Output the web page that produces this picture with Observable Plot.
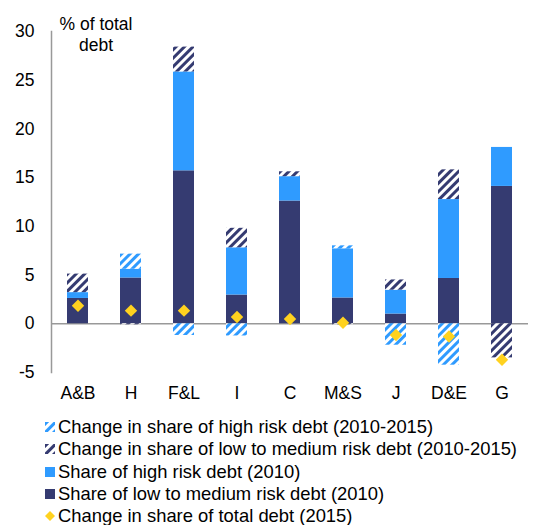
<!DOCTYPE html>
<html>
<head>
<meta charset="utf-8">
<script src="https://cdn.jsdelivr.net/npm/d3@7"></script>
<script src="https://cdn.jsdelivr.net/npm/@observablehq/plot@0.6"></script>
<style>
  body { margin: 0; background: #fff; font-family: "Liberation Sans", Arial, sans-serif; }
  #legend { margin-top: 6px; padding-left: 45px; font-size: 18.4px; line-height: 22.3px; color: #000; }
  #legend .item { display: flex; align-items: center; white-space: nowrap; }
  #legend svg { margin-right: 3px; flex: none; }
</style>
</head>
<body>
<div id="chart"></div>
<div id="legend"></div>
<script>
const categories = ["A&B", "H", "F&L", "I", "C", "M&S", "J", "D&E", "G"];
const lowMedShare2010 = [2.6, 4.7, 15.7, 2.95, 12.6, 2.65, 1.0, 4.65, 14.1];
const highShare2010   = [0.6, 0.9, 10.15, 4.85, 2.5, 5.05, 2.45, 8.1, 4.0];
const changeHigh      = [0, 1.55, -1.2, -1.25, 0, 0.3, -2.2, -4.25, 0];
const changeLowMed    = [1.9, -0.1, 2.55, 2.0, 0.5, -0.1, 1.05, 3.05, -3.5];
const changeTotal     = [1.85, 1.35, 1.35, 0.7, 0.5, 0.1, -1.15, -1.3, -3.7];
const yTicks = [-5, 0, 5, 10, 15, 20, 25, 30];
const seriesNames = [
  "Share of low to medium risk debt (2010)",
  "Share of high risk debt (2010)",
  "Change in share of high risk debt (2010-2015)",
  "Change in share of low to medium risk debt (2010-2015)"
];
const totalName = "Change in share of total debt (2015)";
const legendOrder = [seriesNames[2], seriesNames[3], seriesNames[1], seriesNames[0]];
const axisTitle = "% of total\ndebt";

const NAVY = "#353B71", BLUE = "#2F9BFF", YELLOW = "#FFD21F", GRAY = "#999999";
const fills = [NAVY, BLUE, "url(#hatchBlue)", "url(#hatchNavy)"];

const seriesValues = [lowMedShare2010, highShare2010, changeHigh, changeLowMed];
const rows = [];
seriesValues.forEach((vals, s) => {
  categories.forEach((c, i) => rows.push({cat: c, series: seriesNames[s], value: vals[i]}));
});
const totals = categories.map((c, i) => ({cat: c, value: changeTotal[i]}));

const chart = Plot.plot({
  width: 554,
  height: 410,
  marginLeft: 51,
  marginRight: 26,
  marginTop: 31,
  marginBottom: 38,
  style: {fontFamily: "'Liberation Sans', Arial, sans-serif", fontSize: "17.5px", color: "#000", background: "#fff"},
  x: {domain: categories, paddingInner: 0.6, paddingOuter: 0.3, label: null},
  y: {domain: [-5, 30], label: null},
  color: {domain: seriesNames, range: fills},
  marks: [
    Plot.ruleY([0], {stroke: GRAY, strokeWidth: 1.5}),
    Plot.barY(rows, Plot.stackY({x: "cat", y: "value", fill: "series"})),
    Plot.dot(totals, {x: "cat", y: "value", symbol: "diamond2", r: 5.6, fill: YELLOW, stroke: "none"}),
    Plot.frame({anchor: "left", stroke: GRAY, strokeWidth: 1.5}),
    Plot.axisY({ticks: yTicks, tickSize: 0, tickPadding: 17, tickFormat: d => String(d), fontSize: 17.5, label: null}),
    Plot.axisX({tickSize: 0, tickPadding: 14, fontSize: 17.5, label: null}),
    Plot.text([axisTitle], {frameAnchor: "top-left", dx: 44.5, dy: 2.5, text: d => d, textAnchor: "middle", lineAnchor: "middle", fontSize: 17.5, lineHeight: 1.15})
  ]
});
document.getElementById("chart").append(chart);

// hatch patterns
const svg = d3.select(chart);
const defs = svg.insert("defs", ":first-child");
function hatch(id, color) {
  const p = defs.append("pattern").attr("id", id).attr("patternUnits", "userSpaceOnUse")
    .attr("width", 6).attr("height", 6).attr("patternTransform", "rotate(45)");
  p.append("rect").attr("width", 6).attr("height", 6).attr("fill", "#fff");
  p.append("rect").attr("width", 3).attr("height", 6).attr("fill", color);
}
hatch("hatchBlue", BLUE);
hatch("hatchNavy", NAVY);

// legend
const legend = d3.select("#legend");
legendOrder.forEach(name => {
  const item = legend.append("div").attr("class", "item");
  const sw = item.append("svg").attr("width", 10).attr("height", 10);
  sw.append("rect").attr("width", 10).attr("height", 10).attr("fill", fills[seriesNames.indexOf(name)]);
  item.append("span").text(name);
});
{
  const item = legend.append("div").attr("class", "item");
  const sw = item.append("svg").attr("width", 10).attr("height", 10);
  sw.append("polygon").attr("points", "5,0 10,5 5,10 0,5").attr("fill", YELLOW);
  item.append("span").text(totalName);
}
</script>
</body>
</html>
